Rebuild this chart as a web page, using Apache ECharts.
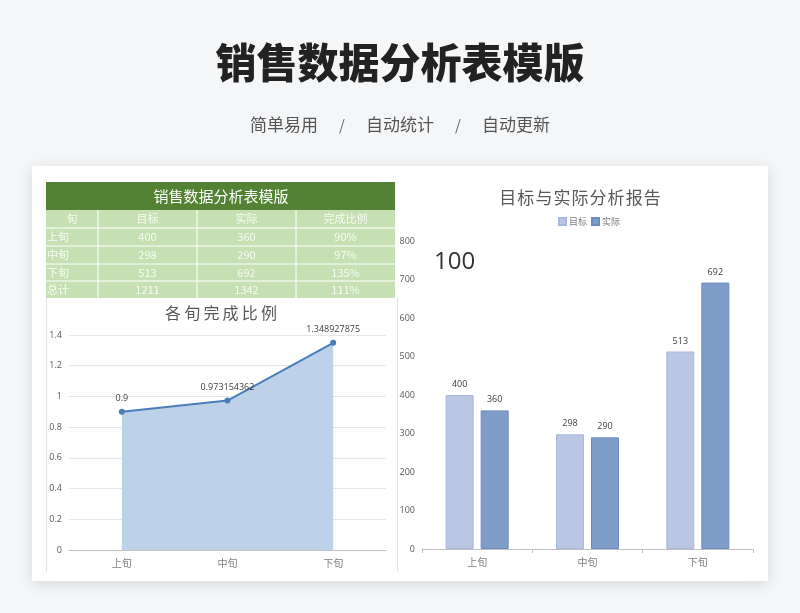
<!DOCTYPE html>
<html><head><meta charset="utf-8">
<script src="https://cdn.jsdelivr.net/npm/echarts@6/dist/echarts.min.js"></script>
<style>html,body{margin:0;padding:0;background:#f5f6f8;}#c{width:800px;height:613px;}</style>
</head><body><div id="c"></div>
<script>
const pageTitle = '销售数据分析表模版';
const tags = ['简单易用', '自动统计', '自动更新'];
const tableTitle = '销售数据分析表模版';
const tableHeader = ['旬', '目标', '实际', '完成比例'];
const periods = ['上旬', '中旬', '下旬'];
const totalLabel = '总计';
const target = [400, 298, 513];
const actual = [360, 290, 692];
const ratioText = ['90%', '97%', '135%', '111%'];
const totalTarget = 1211;
const totalActual = 1342;
const ratio = [0.9, 0.973154362, 1.348927875];
const lineTitle = '各旬完成比例';
const barTitle = '目标与实际分析报告';
const seriesNames = ['目标', '实际'];
const bigNumber = '100';

const CJK = '"Noto Sans CJK SC", "Noto Sans", sans-serif';
const spaced = (s, sp) => s.split('').join(sp);
const chart = echarts.init(document.getElementById('c'));

const g = [];
// card
g.push({type:'rect', shape:{x:32,y:166,width:736,height:415}, style:{fill:'#fff', shadowBlur:14, shadowColor:'rgba(0,0,0,0.12)', shadowOffsetY:3}, z:0});
// page title
g.push({type:'text', x:400, y:62, style:{text:pageTitle, fill:'#222', font:'900 41px '+CJK, textAlign:'center', textVerticalAlign:'middle'}, z:2});
// tags
const tagX = [284, 400, 516];
tags.forEach((t,i)=>{
  g.push({type:'text', x:tagX[i], y:125, style:{text:t, fill:'#555', font:'400 17px '+CJK, textAlign:'center', textVerticalAlign:'middle'}, z:2});
});
[342, 458].forEach(x=>g.push({type:'text', x:x, y:125, style:{text:'/', fill:'#666', font:'400 15px '+CJK, textAlign:'center', textVerticalAlign:'middle'}, z:2}));

// table
g.push({type:'rect', shape:{x:46,y:182,width:349,height:28}, style:{fill:'#548235'}, z:2});
g.push({type:'text', x:221, y:196, style:{text:tableTitle, fill:'#fff', font:'400 15px '+CJK, textAlign:'center', textVerticalAlign:'middle'}, z:3});
g.push({type:'rect', shape:{x:46,y:210,width:349,height:88}, style:{fill:'#c6e0b4'}, z:2});
const colX = [46, 98, 197, 296, 395];
const rowY = [210, 228, 246, 264, 281, 298];
for (let i=1;i<rowY.length-1;i++) g.push({type:'line', shape:{x1:46,y1:rowY[i],x2:395,y2:rowY[i]}, style:{stroke:'#fff', lineWidth:1}, z:3});
for (let j=1;j<colX.length-1;j++) g.push({type:'line', shape:{x1:colX[j],y1:210,x2:colX[j],y2:298}, style:{stroke:'#fff', lineWidth:1}, z:3});
const rows = [tableHeader];
periods.forEach((p,i)=>rows.push([p, String(target[i]), String(actual[i]), ratioText[i]]));
rows.push([totalLabel, String(totalTarget), String(totalActual), ratioText[3]]);
rows.forEach((r,i)=>{
  const cy = (rowY[i]+rowY[i+1])/2;
  r.forEach((t,j)=>{
    const left = (j===0 && i>0);
    g.push({type:'text', x: left ? 47 : (colX[j]+colX[j+1])/2, y:cy, style:{text:t, fill:'#f6fbf2', font:'400 11px '+CJK, textAlign: left?'left':'center', textVerticalAlign:'middle'}, z:3});
  });
});
// left chart frame lines
g.push({type:'line', shape:{x1:46.5,y1:298,x2:46.5,y2:572}, style:{stroke:'#e3e3e3', lineWidth:1}, z:2});
g.push({type:'line', shape:{x1:397.5,y1:298,x2:397.5,y2:572}, style:{stroke:'#e3e3e3', lineWidth:1}, z:2});
// chart titles
g.push({type:'text', x:221, y:313, style:{text:spaced(lineTitle,'\u2009'), fill:'#595959', font:'400 16px '+CJK, textAlign:'center', textVerticalAlign:'middle'}, z:3});
g.push({type:'text', x:580, y:198, style:{text:spaced(barTitle,'\u200A'), fill:'#595959', font:'400 17px '+CJK, textAlign:'center', textVerticalAlign:'middle'}, z:3});
g.push({type:'text', x:434, y:262, style:{text:bigNumber, fill:'#333', font:'400 24px "Open Sans", sans-serif', textAlign:'left', textVerticalAlign:'middle'}, z:3});

const axisLabelCat = {color:'#7f7f7f', fontSize:10, fontFamily:CJK, margin:8};
const axisLabelVal = {color:'#595959', fontSize:9, fontFamily:'"Open Sans", sans-serif', margin:7};

chart.setOption({
  animation:false,
  graphic:g,
  legend:{data:seriesNames, top:212, left:553, itemWidth:7, itemHeight:7, itemGap:4, textStyle:{color:'#7f7f7f', fontSize:9, fontFamily:CJK, padding:[0,0,0,-2]}, icon:'rect'},
  grid:[
    {left:69, right:414, top:335, bottom:63},
    {left:422, right:47, top:241, bottom:64}
  ],
  xAxis:[
    {gridIndex:0, type:'category', data:periods, boundaryGap:true, axisLine:{lineStyle:{color:'#bfbfbf', width:1}}, axisTick:{show:false}, axisLabel:axisLabelCat},
    {gridIndex:1, type:'category', data:periods, boundaryGap:true, axisLine:{lineStyle:{color:'#bfbfbf', width:1}}, axisTick:{show:true, length:4, lineStyle:{color:'#bfbfbf'}}, axisLabel:axisLabelCat}
  ],
  yAxis:[
    {gridIndex:0, type:'value', min:0, max:1.4, interval:0.2, axisLine:{show:false}, axisTick:{show:false}, splitLine:{lineStyle:{color:'#e6e6e6'}}, axisLabel:axisLabelVal},
    {gridIndex:1, type:'value', min:0, max:800, interval:100, axisLine:{show:false}, axisTick:{show:false}, splitLine:{show:false}, axisLabel:axisLabelVal}
  ],
  series:[
    {type:'line', xAxisIndex:0, yAxisIndex:0, data:ratio, symbol:'circle', symbolSize:6,
     lineStyle:{color:'#4a7ebb', width:2}, itemStyle:{color:'#4a7ebb'}, areaStyle:{color:'#bdd1e8', opacity:1},
     label:{show:true, position:'top', distance:6, color:'#404040', fontSize:9, fontFamily:'"Open Sans", sans-serif'}},
    {name:seriesNames[0], type:'bar', xAxisIndex:1, yAxisIndex:1, data:target, barWidth:28, barGap:'25%',
     itemStyle:{color:'#bac6e4', borderColor:'#a9b9dd', borderWidth:1},
     label:{show:true, position:'top', distance:6, color:'#404040', fontSize:9, fontFamily:'"Open Sans", sans-serif'}},
    {name:seriesNames[1], type:'bar', xAxisIndex:1, yAxisIndex:1, data:actual, barWidth:28,
     itemStyle:{color:'#7f9dc9', borderColor:'#6b8bc0', borderWidth:1},
     label:{show:true, position:'top', distance:6, color:'#404040', fontSize:9, fontFamily:'"Open Sans", sans-serif'}}
  ]
});
</script></body></html>
